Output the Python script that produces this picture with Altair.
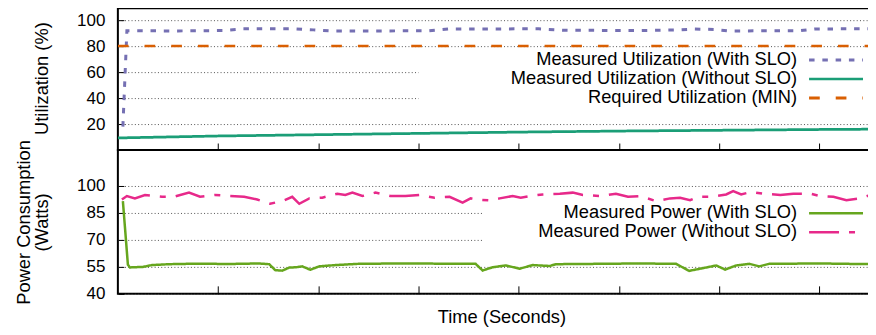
import altair as alt
import pandas as pd

FONT = "Liberation Sans"
FS_TEXT = 18.3
FS_TICK = 17

# ---------------- data ----------------
X_MAX = 763.5
X_TICKS = [100, 200, 300, 400, 500, 600, 700]

# Top panel: utilization (%)
util_with_t = [5, 9, 60, 105, 125, 175, 195, 215, 310, 330, 420, 445, 520, 560, 575, 595, 610, 680, 695, 765]
util_with_v = [18, 91.8, 91.7, 92.0, 93.3, 93.4, 92.5, 91.6, 91.8, 93.2, 93.3, 92.2, 92.0, 92.5, 93.2, 92.8, 91.7, 91.8, 93.2, 93.4]
util_without_t = [0, 100, 200, 300, 400, 500, 600, 700, 765]
util_without_v = [9.3, 10.8, 11.8, 12.8, 13.8, 14.6, 15.2, 15.8, 16.1]
util_min_t = [0, 765]
util_min_v = [80, 80]

# Bottom panel: power (Watts)
pow_with_t = [5, 10, 12, 25, 34, 51, 80, 110, 140, 151, 157, 164, 171, 178, 184, 192, 201, 217, 240, 280,
              320, 357, 364, 374, 387, 401, 414, 431, 437, 480, 520, 557, 570, 583, 597, 606, 617, 630, 640,
              650, 700, 740, 765]
pow_with_v = [91.6, 56.2, 54.7, 55.0, 56.0, 56.5, 56.8, 56.6, 56.9, 56.5, 53.2, 52.9, 54.6, 54.8, 55.3, 53.4,
              55.3, 56.0, 56.7, 56.9, 56.8, 56.7, 53.0, 54.8, 55.8, 54.0, 56.0, 55.5, 56.5, 56.7, 56.9, 56.7,
              52.8, 54.2, 55.8, 53.5, 55.8, 56.7, 55.3, 56.7, 56.9, 56.6, 56.8]
pow_without_t = [4, 9, 17, 27, 44, 56, 71, 82, 97, 112, 126, 139, 152, 166, 174, 181, 191, 204, 219, 227,
                 234, 244, 257, 272, 287, 301, 316, 331, 344, 352, 357, 371, 381, 394, 402, 411, 424, 441,
                 454, 464, 481, 497, 509, 521, 537, 551, 561, 571, 579, 592, 607, 614, 622, 632, 644, 661,
                 674, 691, 701, 714, 727, 741, 751, 757, 765]
pow_without_v = [92.5, 94.4, 93.1, 95.0, 94.0, 94.0, 96.3, 94.0, 95.0, 94.4, 94.0, 92.5, 90.1, 92.0, 94.0,
                 90.1, 93.1, 93.5, 95.7, 95.0, 96.3, 94.4, 96.3, 94.4, 94.4, 95.0, 93.5, 94.0, 90.7, 93.1,
                 92.5, 92.0, 93.1, 94.4, 93.5, 94.4, 95.3, 95.7, 96.3, 95.0, 94.4, 95.7, 94.0, 94.4, 91.6,
                 93.1, 93.5, 92.1, 94.0, 94.0, 95.3, 97.2, 95.3, 96.7, 95.7, 95.0, 95.7, 95.7, 94.4, 94.0,
                 92.1, 93.1, 95.0, 93.1, 90.0]

top_names = ["Measured Utilization (With SLO)", "Measured Utilization (Without SLO)", "Required Utilization (MIN)"]
top_colors = ["#7570b3", "#1b9e77", "#d95f02"]
top_dashes = [[5.5, 7.8], [1, 0], [10.7, 16]]
top_widths = [3, 2.5, 3]

bot_names = ["Measured Power (With SLO)", "Measured Power (Without SLO)"]
bot_colors = ["#66a61e", "#e7298a"]
bot_dashes = [[1, 0], [30, 10, 6, 10]]
bot_widths = [2.5, 2.5]


def series_df(names, ts, vs):
    rows = []
    for n, t, v in zip(names, ts, vs):
        for a, b in zip(t, v):
            rows.append({"series": n, "t": a, "v": b})
    return pd.DataFrame(rows)


top_df = series_df(top_names, [util_with_t, util_without_t, util_min_t],
                   [util_with_v, util_without_v, util_min_v])
bot_df = series_df(bot_names, [pow_with_t, pow_without_t], [pow_with_v, pow_without_v])
one = pd.DataFrame({"k": [0]})


def legend_layers(names, colors, dashes, widths, rows_y, text_x, sx1, sx2):
    layers = []
    for n, c, d, w, yy in zip(names, colors, dashes, widths, rows_y):
        layers.append(alt.Chart(one).mark_rule(color=c, strokeDash=d, strokeWidth=w, strokeCap="butt")
                      .encode(x=alt.value(sx1), x2=alt.value(sx2), y=alt.value(yy)))
        layers.append(alt.Chart(one).mark_text(text=n, align="right", baseline="middle", font=FONT,
                                               fontSize=FS_TEXT, color="black")
                      .encode(x=alt.value(text_x), y=alt.value(yy)))
    return layers


def series_enc(names, colors, dashes, widths):
    return dict(
        color=alt.Color("series:N", scale=alt.Scale(domain=names, range=colors), legend=None),
        strokeDash=alt.StrokeDash("series:N", scale=alt.Scale(domain=names, range=dashes), legend=None),
        strokeWidth=alt.StrokeWidth("series:N", scale=alt.Scale(domain=names, range=widths), legend=None),
    )


W = 766

# ---------------- top panel ----------------
x_top = alt.X("t:Q", scale=alt.Scale(domain=[0, X_MAX], nice=False, zero=False),
              axis=alt.Axis(values=X_TICKS, orient="bottom", offset=-7, tickSize=7, labels=False,
                            domain=False, grid=False, title=None))
y_top = alt.Y("v:Q", scale=alt.Scale(domain=[0, 109.2], nice=False),
              axis=alt.Axis(values=[20, 40, 60, 80, 100], offset=-6, tickSize=6, labelPadding=13,
                            domain=False, grid=True, title="Utilization (%)", titleX=-76, titleY=70,
                            titleAngle=270, titleAlign="center", titleBaseline="alphabetic"))

top_bg = alt.Chart(one).mark_rect(color="white").encode(
    x=alt.value(301), x2=alt.value(755), y=alt.value(42), y2=alt.value(104))
top_lines = alt.Chart(top_df).mark_line(clip=True, strokeCap="butt").encode(
    x=x_top, y=y_top, **series_enc(top_names, top_colors, top_dashes, top_widths))
top = alt.layer(top_bg, top_lines,
                *legend_layers(top_names, top_colors, top_dashes, top_widths, [51.8, 70.8, 89.8], 680, 692, 746)
                ).properties(width=W, height=142)

# ---------------- bottom panel ----------------
x_bot = alt.X("t:Q", scale=alt.Scale(domain=[0, X_MAX], nice=False, zero=False),
              axis=alt.Axis(values=X_TICKS, orient="bottom", offset=-8, tickSize=8, labels=False,
                            domain=False, grid=False, title="Time (Seconds)", titleX=384, titleY=37,
                            titleAlign="center", titleBaseline="alphabetic"))
y_bot = alt.Y("v:Q", scale=alt.Scale(domain=[40, 120], nice=False, zero=False),
              axis=alt.Axis(values=[40, 55, 70, 85, 100], offset=-6, tickSize=6, labelPadding=13,
                            domain=False, grid=True, title=["Power Consumption", "(Watts)"],
                            titleX=-94.5, titleY=72, titleAngle=270, titleAlign="center",
                            titleBaseline="alphabetic", titleLineHeight=18.5))

bot_bg = alt.Chart(one).mark_rect(color="white").encode(
    x=alt.value(366), x2=alt.value(755), y=alt.value(52), y2=alt.value(103))
bot_lines = alt.Chart(bot_df).mark_line(clip=True, strokeCap="butt").encode(
    x=x_bot, y=y_bot, **series_enc(bot_names, bot_colors, bot_dashes, bot_widths))
bottom = alt.layer(bot_bg, bot_lines,
                   *legend_layers(bot_names, bot_colors, bot_dashes, bot_widths, [63.3, 82.3], 680, 692, 746)
                   ).properties(width=W, height=144)

chart = alt.vconcat(
    top, bottom, spacing=0, bounds="flush",
    padding={"left": 5, "top": -1, "right": -16, "bottom": -1},
).resolve_scale(
    color="independent", strokeDash="independent", strokeWidth="independent"
).configure_view(stroke="black", strokeWidth=2).configure_axis(
    labelFont=FONT, labelFontSize=FS_TICK, labelColor="black",
    titleFont=FONT, titleFontSize=FS_TEXT, titleFontWeight="normal", titleColor="black",
    tickColor="black", tickWidth=1,
    gridColor="#555555", gridDash=[1, 2.3], gridWidth=1, gridOpacity=1,
)

chart.save("out.html", embed_options={"renderer": "svg", "actions": False})
